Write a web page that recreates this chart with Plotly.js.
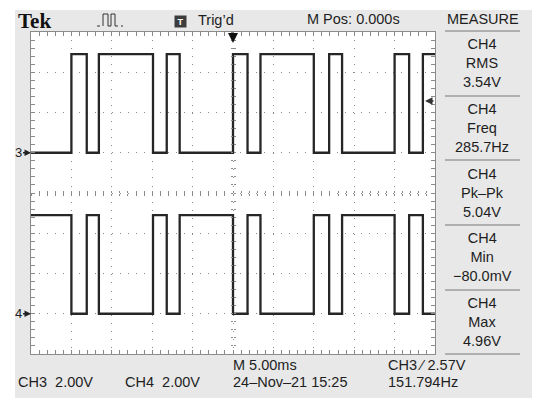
<!DOCTYPE html>
<html>
<head>
<meta charset="utf-8">
<script src="https://cdn.plot.ly/plotly-3.0.1.min.js"></script>
<style>html,body{margin:0;padding:0;background:#fff;}</style>
</head>
<body>
<div id="scope" style="position:absolute;left:15px;top:10px;width:517px;height:388px;"></div>
<script>
// edge times in ms (5 ms/div, M Pos 0.000s at screen centre)
var times = [-25, -20.0, -18.1, -16.6, -9.9, -8.2, -6.6, 0.0, 1.8, 3.4, 10.0, 11.9, 13.5, 20.0, 21.8, 23.5, 25];
// level after each edge, volts
var ch3Volts = [0, 4.9, 0, 4.9, 0, 4.9, 0, 4.9, 0, 4.9, 0, 4.9, 0, 4.9, 0, 4.9, 4.9];
var ch4Volts = [4.9, 0, 4.9, 0, 4.9, 0, 4.9, 0, 4.9, 0, 4.9, 0, 4.9, 0, 4.9, 0, 0];

var channels = ['CH3', 'CH4'];
var chScale = ['2.00V', '2.00V'];
var trigLevel = 2.57;

var measureSource = ['CH4', 'CH4', 'CH4', 'CH4', 'CH4'];
var measureNames = ['RMS', 'Freq', 'Pk\u2013Pk', 'Min', 'Max'];
var measureValues = ['3.54V', '285.7Hz', '5.04V', '\u221280.0mV', '4.96V'];

// screen pixel -> paper fraction (graticule is 31..435 x 32..354 on the photo)
function px(x) { return (x - 31) / 404; }
function py(y) { return (354 - y) / 322; }

var ink = '#1e1e1e';
var gridc = '#8a8a8a';
var font = 'Liberation Sans, Arial, sans-serif';

var trace3 = {
    x: times, y: ch3Volts, xaxis: 'x', yaxis: 'y',
    type: 'scatter', mode: 'lines', line: {shape: 'hv', color: '#262626', width: 2.3},
    name: 'CH3', hoverinfo: 'skip'
};
var trace4 = {
    x: times, y: ch4Volts, xaxis: 'x', yaxis: 'y2',
    type: 'scatter', mode: 'lines', line: {shape: 'hv', color: '#262626', width: 2.3},
    name: 'CH4', hoverinfo: 'skip'
};
// empty traces so the centre-line tick axes get drawn
var bind = [
    {x: [], y: [], xaxis: 'x2', yaxis: 'y'},
    {x: [], y: [], xaxis: 'x3', yaxis: 'y'},
    {x: [], y: [], xaxis: 'x', yaxis: 'y3'},
    {x: [], y: [], xaxis: 'x', yaxis: 'y4'}
];

var data = [trace3, trace4].concat(bind);

function centreAxis(range, dtick, minor, ticks, pos, over) {
    return {
        overlaying: over, anchor: 'free', position: pos, range: range,
        tick0: 0, dtick: dtick, ticks: ticks, ticklen: 2, tickcolor: gridc, tickwidth: 1,
        minor: {dtick: minor, ticks: ticks, ticklen: 2, tickcolor: gridc, showgrid: false},
        showgrid: false, showline: false, showticklabels: false, zeroline: false, fixedrange: true
    };
}

function label(x, y, text, anchor) {
    return {xref: 'paper', yref: 'paper', x: px(x), y: py(y), xanchor: anchor || 'left', yanchor: 'middle',
            showarrow: false, text: text};
}

var annotations = [
    {xref: 'paper', yref: 'paper', x: px(16), y: py(21), xanchor: 'left', yanchor: 'middle', showarrow: false,
     text: '<b>Tek</b>', font: {family: 'Liberation Serif, Times New Roman, serif', size: 21, color: '#111'}},
    {xref: 'paper', yref: 'paper', x: px(180.5), y: py(21.5), xanchor: 'center', yanchor: 'middle', showarrow: false,
     width: 9, height: 9, text: '<b>T</b>', bgcolor: '#3c3c3c', borderpad: 1, font: {family: font, size: 9, color: '#fff'}},
    label(196, 20, 'Trig\u2019d'),
    label(305, 19, 'M Pos: 0.000s'),
    label(483, 19, 'MEASURE', 'center'),
    label(16, 382, channels[0] + '\u00a0\u00a0' + chScale[0]),
    label(123, 382, channels[1] + '\u00a0\u00a0' + chScale[1]),
    label(231, 365, 'M 5.00ms'),
    label(231, 382, '24\u2013Nov\u201321 15:25'),
    label(386, 365, 'CH3 \u2215 ' + trigLevel.toFixed(2) + 'V'),
    label(386, 382, '151.794Hz'),
    // trigger position and level markers
    {xref: 'x', yref: 'paper', x: 0, y: py(43), ax: 0, ay: -9, text: '', showarrow: true,
     arrowhead: 2, arrowsize: 1, arrowwidth: 2, arrowcolor: '#111'},
    {xref: 'paper', yref: 'y', x: px(425), y: trigLevel, ax: 10, ay: 0, text: '', showarrow: true,
     arrowhead: 2, arrowsize: 1, arrowwidth: 1.5, arrowcolor: '#333'},
    // channel ground markers
    {xref: 'paper', yref: 'y', x: 0, y: 0, ax: -13, ay: 0, text: '3', showarrow: true,
     arrowhead: 2, arrowsize: 1, arrowwidth: 1.3, arrowcolor: '#222', font: {size: 13}},
    {xref: 'paper', yref: 'y2', x: 0, y: 0, ax: -13, ay: 0, text: '4', showarrow: true,
     arrowhead: 2, arrowsize: 1, arrowwidth: 1.3, arrowcolor: '#222', font: {size: 13}}
];

var entryMid = [63, 128, 193, 257, 322];
for (var i = 0; i < measureNames.length; i++) {
    var m = label(482, entryMid[i], measureSource[i] + '<br>' + measureNames[i] + '<br>' + measureValues[i], 'center');
    m.align = 'center';
    annotations.push(m);
}

var shapes = [
    {type: 'path', xref: 'paper', yref: 'paper', xsizemode: 'pixel', ysizemode: 'pixel',
     xanchor: px(97), yanchor: py(26), path: 'M6,0 V12 H11 V0 H14 V12 H18 V0', line: {color: '#333', width: 1}},
    {type: 'path', xref: 'paper', yref: 'paper', xsizemode: 'pixel', ysizemode: 'pixel',
     xanchor: px(97), yanchor: py(26), path: 'M0,0 H6 M18,0 H26', line: {color: '#333', width: 1, dash: 'dot'}}
];
var sepY = [31, 96, 160, 225, 290, 354];
for (var j = 0; j < sepY.length; j++) {
    shapes.push({type: 'line', xref: 'paper', yref: 'paper', x0: px(445), x1: px(520), y0: py(sepY[j]), y1: py(sepY[j]),
                 line: {color: '#9c9c9c', width: 1.5}});
}

var layout = {
    width: 517, height: 388,
    margin: {l: 16, r: 97, t: 22, b: 44, pad: 0},
    paper_bgcolor: '#e8e8e8',
    plot_bgcolor: '#ffffff',
    showlegend: false,
    font: {family: font, size: 14.5, color: ink},
    xaxis: {
        range: [-25, 25], tick0: 0, dtick: 5, showticklabels: false,
        ticks: 'inside', ticklen: 4, tickcolor: gridc, tickwidth: 1,
        showline: true, linecolor: gridc, linewidth: 1, mirror: 'ticks',
        showgrid: true, gridcolor: gridc, gridwidth: 1, griddash: '1px,7.08px',
        zeroline: false, fixedrange: true,
        minor: {dtick: 1, ticks: 'inside', ticklen: 4, tickcolor: gridc, showgrid: false}
    },
    yaxis: {
        range: [-10, 6], tick0: 0, dtick: 2, showticklabels: false,
        ticks: 'inside', ticklen: 4, tickcolor: gridc, tickwidth: 1,
        showline: true, linecolor: gridc, linewidth: 1, mirror: 'ticks',
        showgrid: true, gridcolor: gridc, gridwidth: 1, griddash: '1px,7.05px',
        zeroline: false, fixedrange: true,
        minor: {dtick: 0.4, ticks: 'inside', ticklen: 4, tickcolor: gridc, showgrid: false}
    },
    yaxis2: {range: [-2, 14], overlaying: 'y', visible: false, fixedrange: true},
    xaxis2: centreAxis([-25, 25], 5, 1, 'inside', 0.5, 'x'),
    xaxis3: centreAxis([-25, 25], 5, 1, 'outside', 0.5, 'x'),
    yaxis3: centreAxis([-10, 6], 2, 0.4, 'inside', 0.5, 'y'),
    yaxis4: centreAxis([-10, 6], 2, 0.4, 'outside', 0.5, 'y'),
    annotations: annotations,
    shapes: shapes
};

Plotly.newPlot('scope', data, layout, {staticPlot: true});
</script>
</body>
</html>
